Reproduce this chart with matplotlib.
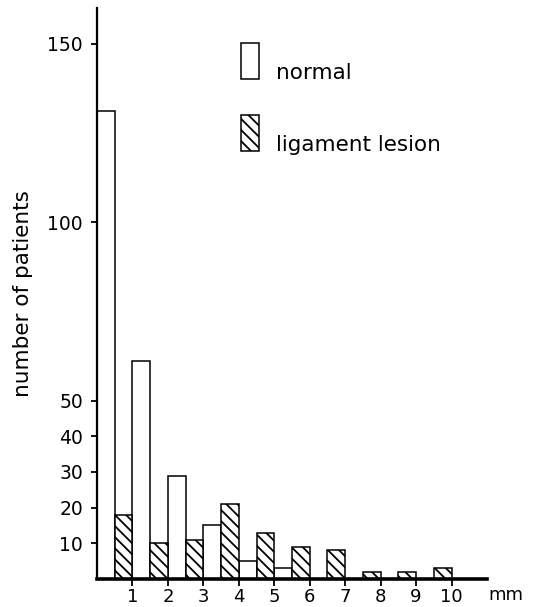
import matplotlib
matplotlib.use("Agg")
import matplotlib.pyplot as plt
from matplotlib.patches import Rectangle

plt.rcParams['font.family'] = ['DejaVu Sans']
plt.rcParams['hatch.linewidth'] = 1.3

# data
normal_mm = [0, 1, 2, 3, 4, 5]
normal_counts = [131, 61, 29, 15, 5, 3]
lesion_mm = [1, 2, 3, 4, 5, 6, 7, 8, 9, 10]
lesion_counts = [18, 10, 11, 21, 13, 9, 8, 2, 2, 3]
xticks = [1, 2, 3, 4, 5, 6, 7, 8, 9, 10]
yticks = [10, 20, 30, 40, 50, 100, 150]
series_labels = ['normal', 'ligament lesion']

W, H = 534, 607
fig = plt.figure(figsize=(W / 100, H / 100), dpi=100)
ax = fig.add_axes([97 / W, (H - 579) / H, 390 / W, 571 / H])

bw = 0.5
ax.bar(normal_mm, normal_counts, width=bw, align='edge', facecolor='white',
       edgecolor='black', linewidth=1.1)
ax.bar(lesion_mm, lesion_counts, width=-bw, align='edge', facecolor='white',
       edgecolor='black', linewidth=1.1, hatch='\\\\\\')

ax.set_xlim(0, 11)
ax.set_ylim(0, 160)
for s in ['top', 'right']:
    ax.spines[s].set_visible(False)
ax.spines['left'].set_linewidth(1.6)
ax.spines['bottom'].set_linewidth(2.6)

ax.set_xticks(xticks)
ax.set_xticklabels([str(t) for t in xticks], fontsize=13)
ax.set_yticks(yticks)
ax.set_yticklabels([str(t) for t in yticks], fontsize=13.5)
ax.tick_params(axis='x', length=5, width=1.3, pad=1.5)
ax.tick_params(axis='y', length=4, width=1.3, pad=6)

ax.set_ylabel('number of patients', fontsize=15.5)
ax.yaxis.set_label_coords(-0.165, 0.5)

ax.text(11.03, -4.6, 'mm', fontsize=13, ha='left', va='center', clip_on=False)

# legend drawn by hand: tall boxes with text baseline at box bottom
box_w, box_h = 18, 36
entries = [(241, 79, None), (241, 151, '\\\\\\')]
for (x0, ybot, hatch), lab in zip(entries, series_labels):
    fig.add_artist(Rectangle((x0 / W, (H - ybot) / H), box_w / W, box_h / H,
                             transform=fig.transFigure, facecolor='white',
                             edgecolor='black', linewidth=1.1,
                             hatch=hatch if hatch else ''))
    fig.text((x0 + box_w + 17) / W, (H - ybot) / H, lab, fontsize=15.5,
             ha='left', va='baseline')

fig.savefig('out.png', dpi=100)
